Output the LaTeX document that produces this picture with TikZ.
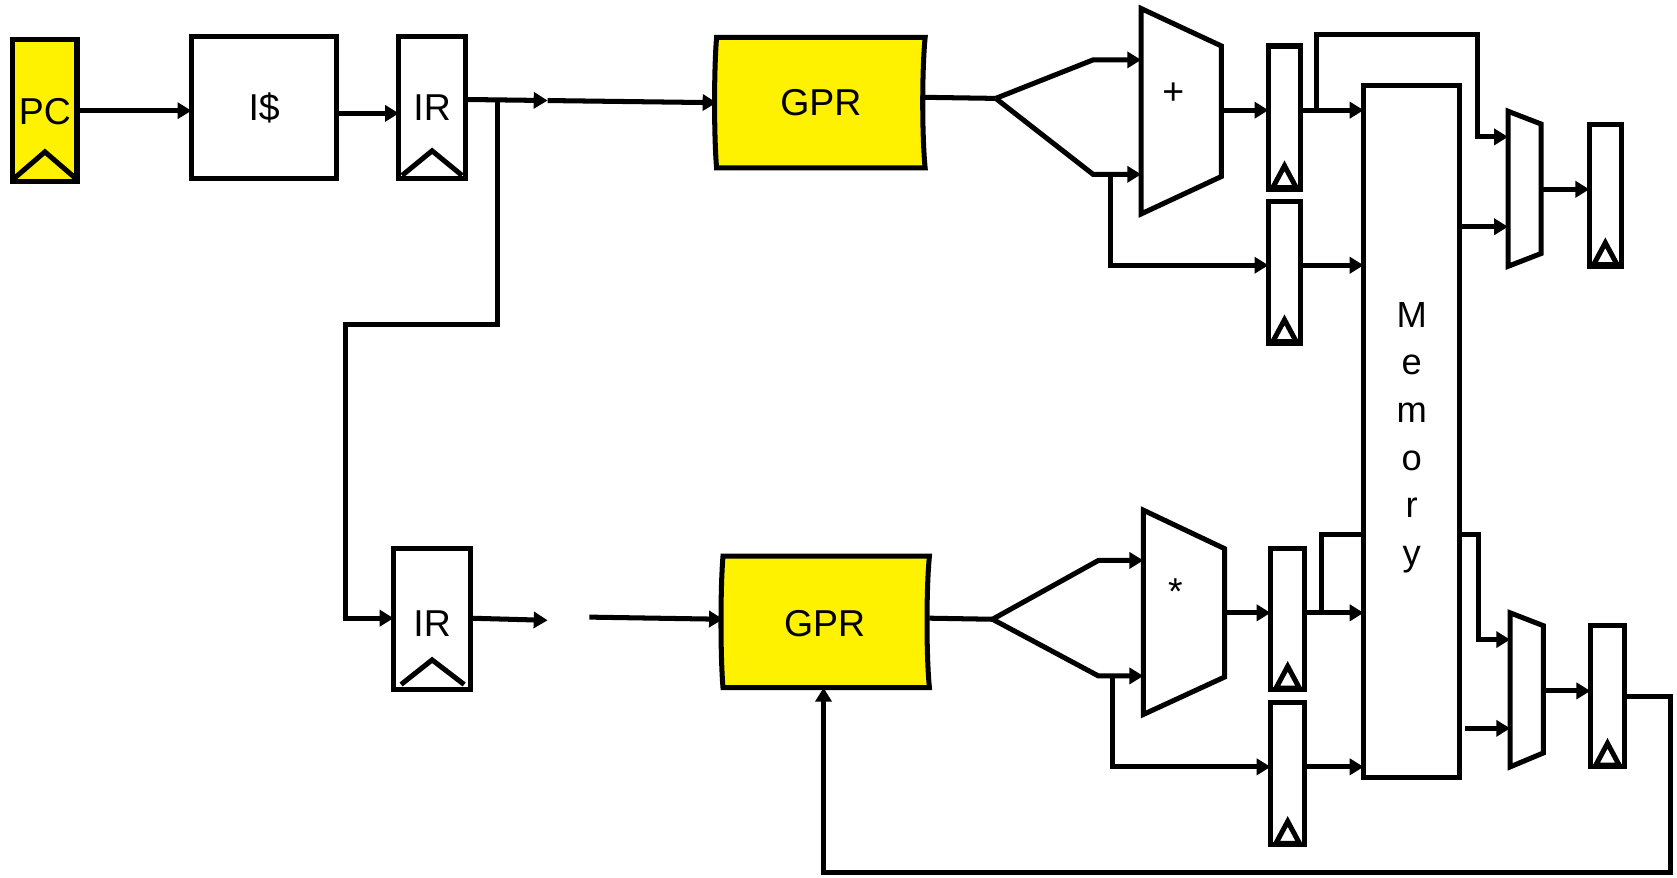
\documentclass[tikz,border=0pt]{standalone}
\usepackage{fontspec}
\setmainfont{Liberation Sans}
\usetikzlibrary{arrows.meta,calc,fit}
\begin{document}
\begin{tikzpicture}[x=0.5pt,y=-0.5pt,line width=2.35pt,
  box/.style={draw,inner sep=0pt,outer sep=0pt,fill=white},
  ghost/.style={inner sep=0pt,outer sep=0pt},
  lbl/.style={font=\fontsize{17.5}{21}\selectfont,inner sep=0pt},
  arr/.style={-{Triangle[length=6.5pt,width=7.5pt]}},
]
\useasboundingbox (0,0) rectangle (1568,820);

% ---------- top row ----------
\node[box,fill=yellow,fit={(12,37)(72,170)}] (pc) {};
\draw ($(pc.south west)+(1,-3)$) -- ($(pc.south)+(0,-28)$) -- ($(pc.south east)+(-1,-3)$);
\node[lbl] (pct) at (42,104) {PC};
\node[box,fit={(179,34)(315,167)}] (ic) {};
\node[lbl] (ict) at (247,101) {I\$};
\node[box,fit={(373,34)(435,167)}] (ir1) {};
\node[lbl] (ir1t) at (404,101) {IR};
\draw ($(ir1.south west)+(3,-3)$) -- ($(ir1.south)+(0,-26)$) -- ($(ir1.south east)+(-3,-3)$);

\node[ghost,fit={(670,35)(865,157)}] (gpr1) {};
\draw[fill=yellow] (gpr1.north west) -- (gpr1.north east)
  .. controls +(-3,30) and +(-3,-30) .. (gpr1.south east) -- (gpr1.south west)
  .. controls +(-2.5,-30) and +(-2.5,30) .. (gpr1.north west) -- cycle;
\node[lbl] (gpr1t) at (gpr1.center) {GPR};

\node[ghost,fit={(1067,8)(1142,200)}] (add) {};
\draw (add.north west) -- ($(add.north east)+(0,35)$) -- ($(add.south east)+(0,-35)$) -- (add.south west) -- cycle;
\node[lbl] (addt) at (1097,88) {+};

\node[box,fit={(1186,43)(1216,177)}] (rA1) {};
\node[box,fit={(1186,188)(1216,321)}] (rA2) {};
\node[box,fit={(1275,80)(1365,727)}] (mem) {};
\node[inner sep=0pt,align=center,anchor=north,font=\fontsize{17}{22.3}\selectfont] (memt) at (mem.center |- 0,280) {M\\e\\m\\o\\r\\y};

\node[ghost,fit={(1410,104)(1441,249)}] (muxT) {};
\draw (muxT.north west) -- ($(muxT.north east)+(0,12)$) -- ($(muxT.south east)+(0,-12)$) -- (muxT.south west) -- cycle;
\node[box,fit={(1486,116)(1516,249)}] (rT) {};

% ---------- bottom row ----------
\node[box,fit={(368,513)(440,645)}] (ir2) {};
\node[lbl] (ir2t) at (404,583) {IR};
\draw ($(ir2.south west)+(7,-5)$) -- ($(ir2.south)+(0,-28)$) -- ($(ir2.south east)+(-6,-5)$);

\node[ghost,fit={(676,520)(869,643)}] (gpr2) {};
\draw[fill=yellow] (gpr2.north west) -- (gpr2.north east)
  .. controls +(-3,30) and +(-3,-30) .. (gpr2.south east) -- (gpr2.south west)
  .. controls +(-2.5,-30) and +(-2.5,30) .. (gpr2.north west) -- cycle;
\node[lbl] (gpr2t) at (771,583) {GPR};

\node[ghost,fit={(1069,477)(1145,668)}] (mul) {};
\draw (mul.north west) -- ($(mul.north east)+(0,36)$) -- ($(mul.south east)+(0,-35)$) -- (mul.south west) -- cycle;
\node[lbl] (mult) at (1099,553) {*};

\node[box,fit={(1188,513)(1220,645)}] (rB1) {};
\node[box,fit={(1188,657)(1220,790)}] (rB2) {};
\node[ghost,fit={(1412,573)(1443,717)}] (muxB) {};
\draw (muxB.north west) -- ($(muxB.north east)+(0,12)$) -- ($(muxB.south east)+(0,-13)$) -- (muxB.south west) -- cycle;
\node[box,fit={(1487,585)(1519,717)}] (rBf) {};

% clock triangles
\foreach \r in {rA1,rA2,rT,rB1,rB2,rBf}{
  \draw[fill=white] ($(\r.south)+(-11,-1.5)$) -- ($(\r.south)+(0,-22)$) -- ($(\r.south)+(11,-1.5)$) -- cycle;
}

% ---------- connectors top ----------
\draw[arr] (pc.east) -- (ic.west |- pc.east);
\draw[arr] (ic.east |- 0,106) -- (ir1.west |- 0,106);
\coordinate (m1) at (512,94);
\coordinate (j1) at (465,93);
\draw[arr] (ir1.east |- 0,93) -- (m1);
\draw[arr] (m1) -- (gpr1.west |- 0,96);
\draw[arr] (j1) |- (323,303) |- (ir2.west |- 0,578);

\coordinate (s1) at (931,92);
\draw (gpr1.east |- 0,91) -- (s1);
\draw[arr] (s1) -- (1022,56) -- (add.west |- 0,56);
\draw[arr] (s1) -- (1022,163) -- (add.west |- 0,163);
\draw[arr] (1038,163) |- (rA2.west |- 0,248);
\draw[arr] (add.east |- 0,103) -- (rA1.west |- 0,103);
\draw[arr] (rA1.east |- 0,103) -- (mem.west |- 0,103);
\draw[arr] (1231,103) |- (1381,32) |- (muxT.west |- 0,128);
\draw[arr] (rA2.east |- 0,248) -- (mem.west |- 0,248);
\draw[arr] (mem.east |- 0,212) -- (muxT.west |- 0,212);
\draw[arr] (muxT.east |- 0,177) -- (rT.west |- 0,177);

% ---------- connectors bottom ----------
\coordinate (m2) at (512,580);
\coordinate (m3) at (551,577);
\draw[arr] (ir2.east |- 0,578) -- (m2);
\draw[arr] (m3) -- (gpr2.west |- 0,579);
\coordinate (s2) at (928,579);
\draw (gpr2.east |- 0,578) -- (s2);
\draw[arr] (s2) -- (1027,524) -- (mul.west |- 0,524);
\draw[arr] (s2) -- (1027,632) -- (mul.west |- 0,632);
\draw[arr] (1040,632) |- (rB2.west |- 0,717);
\draw[arr] (mul.east |- 0,573) -- (rB1.west |- 0,573);
\draw[arr] (rB1.east |- 0,573) -- (mem.west |- 0,573);
\draw (1236,573) |- (mem.west |- 0,500);
\draw[arr] (rB2.east |- 0,717) -- (mem.west |- 0,717);
\draw[arr] (mem.east |- 0,500) -| (1382,598) -- (muxB.west |- 0,598);
\draw[arr] (1370,681) -- (muxB.west |- 0,681);
\draw[arr] (muxB.east |- 0,646) -- (rBf.west |- 0,646);
\coordinate (fb) at (770,816);
\draw[arr] (rBf.east |- 0,651) -| (1562,816) -- (fb) -- (fb |- gpr2.south);
\end{tikzpicture}
\end{document}
